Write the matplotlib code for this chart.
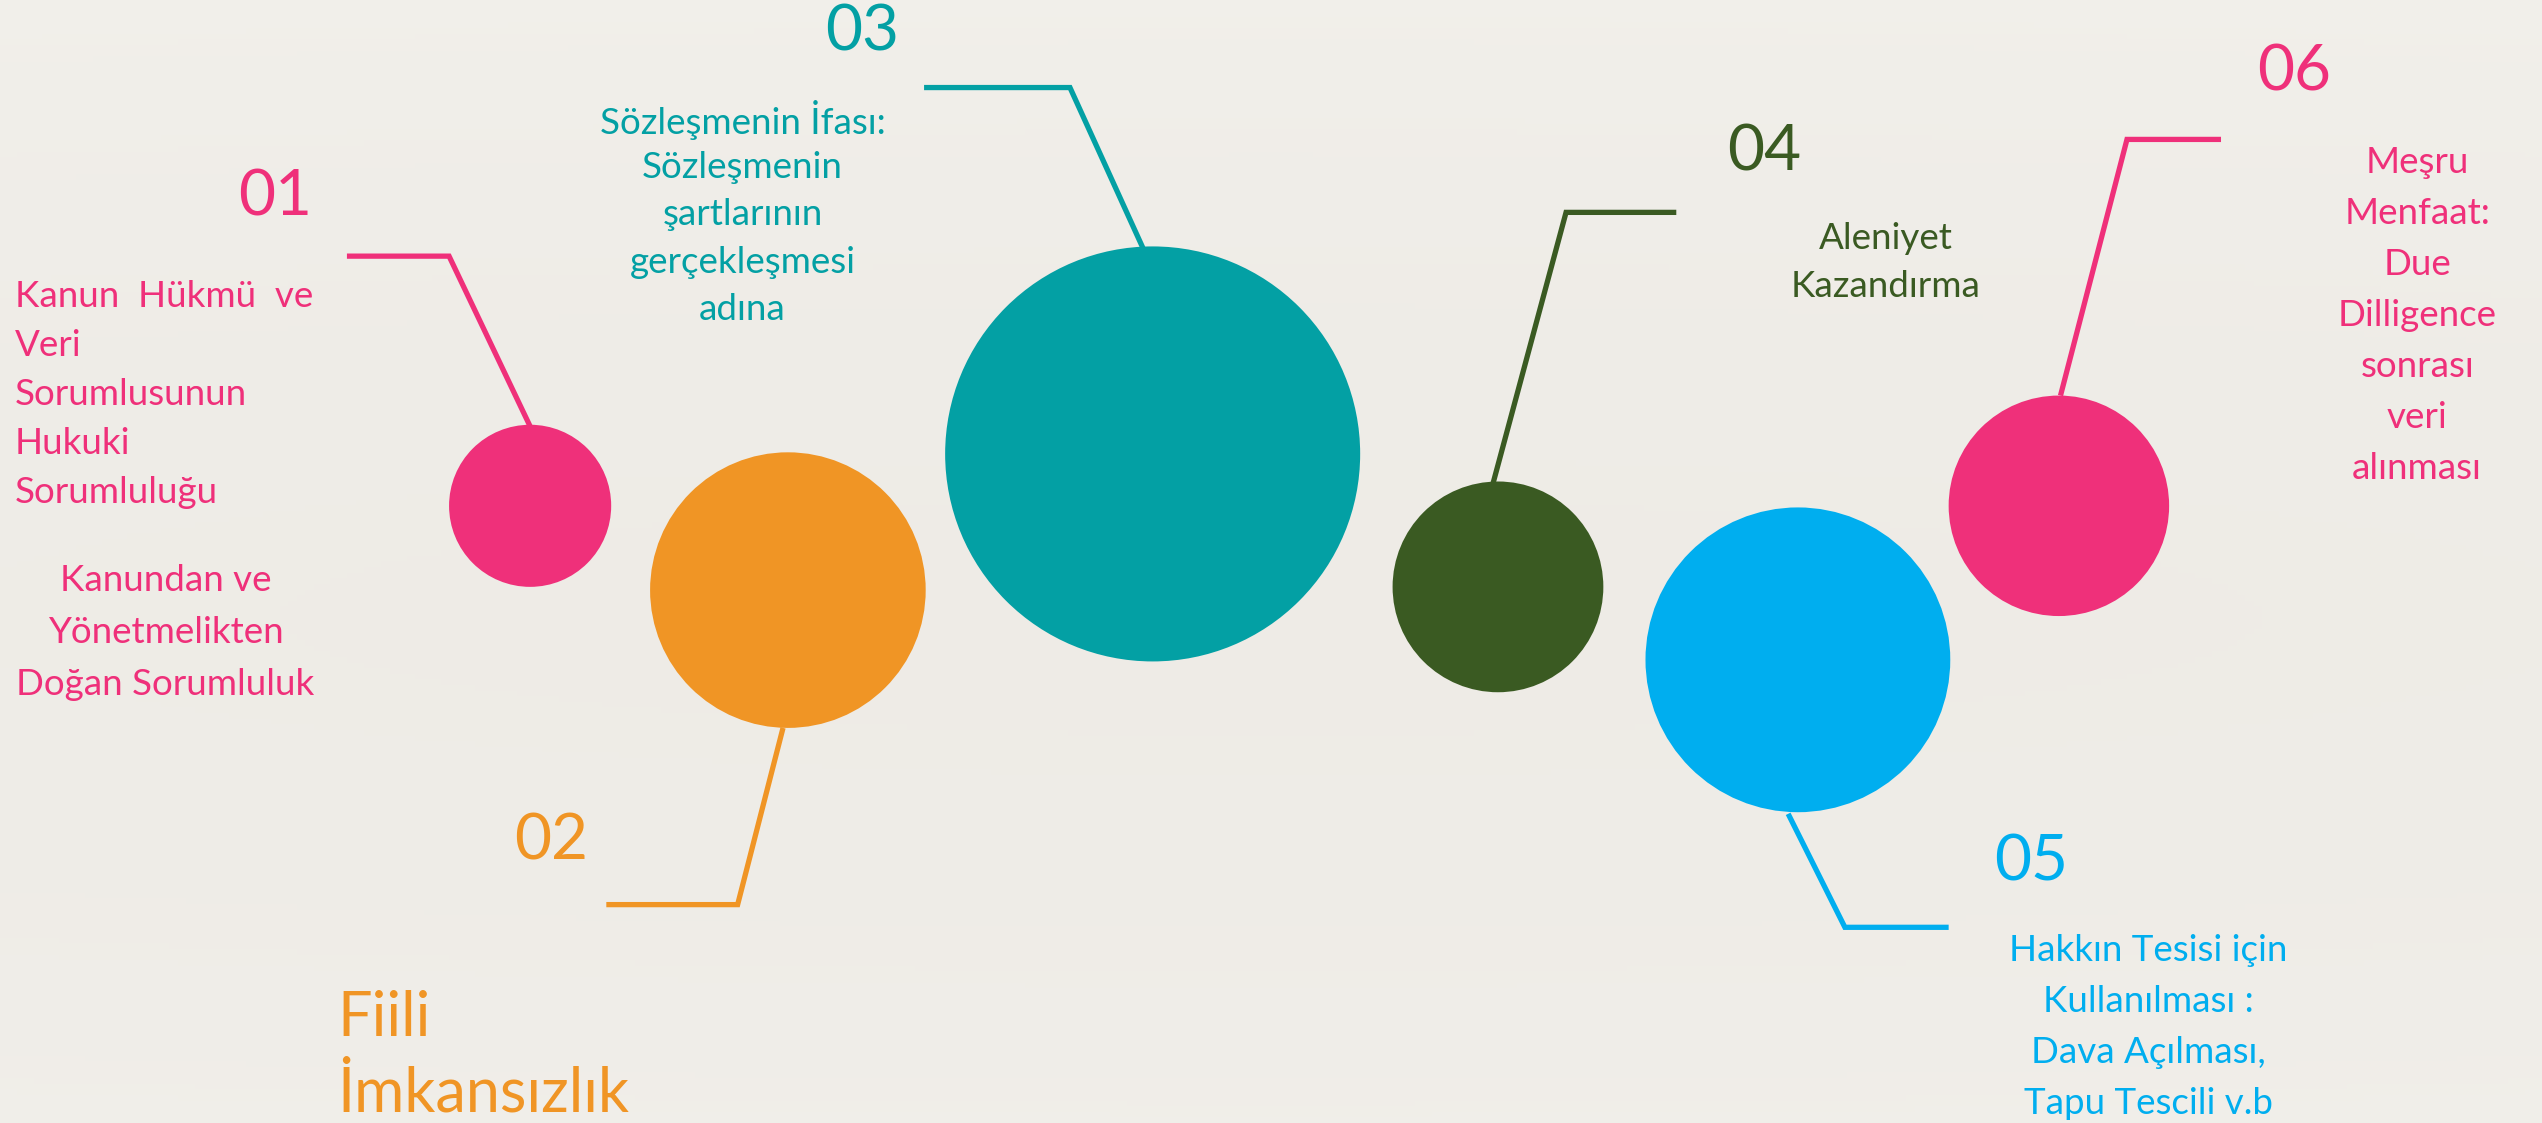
import matplotlib
matplotlib.use("Agg")
import matplotlib.pyplot as plt
from matplotlib.patches import Circle
import numpy as np

W, H = 2542, 1123
S = 2542 / 1568.0  # display units -> pixels
YMAX = H / S

labels = ["01", "02", "03", "04", "05", "06"]
colors = ["#EF307A", "#F09525", "#03A0A4", "#3A5A22", "#00AEEF", "#EF307A"]
cx = [327, 486, 711, 924, 1109, 1270]
cy = [312, 364, 280, 362, 407, 312]
radius = [50, 85, 128, 65, 94, 68]

# leader lines (display coordinate units)
lines_x = [[214, 277, 327], [374, 455, 483], [570, 660, 705],
           [1034, 966, 921], [1202, 1138, 1103], [1370, 1312, 1271]]
lines_y = [[158, 158, 263], [558, 558, 449], [54, 54, 153],
           [131, 131, 298], [572, 572, 502], [86, 86, 244]]

num_x = [170, 340, 532, 1088, 1253, 1415]
num_y = [122, 519, 20, 94, 532, 45]

fig = plt.figure(figsize=(W / 100, H / 100), dpi=100)
fig.patch.set_facecolor("#EDEAE5")
ax = fig.add_axes([0, 0, 1, 1])
ax.set_xlim(0, 1568)
ax.set_ylim(YMAX, 0)
ax.axis("off")

# subtle paper background: lighter at top and bottom edges, slightly darker in the middle
yy = np.linspace(0, 1, 200)[:, None]
xx = np.linspace(0, 1, 300)[None, :]
shade = 0.5 + 0.5 * ((yy - 0.55) ** 2 * 2.2) + 0.08 * (xx - 0.5) ** 2
top = np.array([0.953, 0.945, 0.925])
mid = np.array([0.915, 0.905, 0.885])
img = mid + (top - mid) * np.clip(shade, 0, 1)[..., None]
ax.imshow(img, extent=[0, 1568, YMAX, 0], aspect="auto", zorder=0)

FONT = ["Lato", "DejaVu Sans"]
LW = 3.8

for i in range(6):
    ax.add_patch(Circle((cx[i], cy[i]), radius[i], color=colors[i], lw=0, zorder=3))
    ax.plot(lines_x[i], lines_y[i], color=colors[i], lw=LW, solid_capstyle="butt",
            solid_joinstyle="miter", zorder=2)
    ax.text(num_x[i], num_y[i], labels[i], color=colors[i], fontsize=46,
            ha="center", va="center", family=FONT)

body = 26.5

# 01
t01a = ["Kanun  Hükmü  ve", "Veri", "Sorumlusunun", "Hukuki", "Sorumluluğu"]
for k, s in enumerate(t01a):
    ax.text(9, 183 + k * 30.2, s, color=colors[0], fontsize=body, ha="left",
            va="center", family=FONT)
t01b = ["Kanundan ve", "Yönetmelikten", "Doğan Sorumluluk"]
for k, s in enumerate(t01b):
    ax.text(102, 358 + k * 32, s, color=colors[0], fontsize=body, ha="center",
            va="center", family=FONT)

# 02
t02 = ["Fiili", "İmkansızlık"]
for k, s in enumerate(t02):
    ax.text(208, 628 + k * 47, s, color=colors[1], fontsize=44, ha="left",
            va="center", family=FONT)

# 03
t03 = ["Sözleşmenin İfası:", "Sözleşmenin", "şartlarının", "gerçekleşmesi", "adına"]
for k, s in enumerate(t03):
    ax.text(458, 74 + k * 29.3, s, color=colors[2], fontsize=body, ha="center",
            va="center", family=FONT)

# 04
t04 = ["Aleniyet", "Kazandırma"]
for k, s in enumerate(t04):
    ax.text(1163, 147 + k * 30, s, color=colors[3], fontsize=body, ha="center",
            va="center", family=FONT)

# 05
t05 = ["Hakkın Tesisi için", "Kullanılması :", "Dava Açılması,", "Tapu Tescili v.b"]
for k, s in enumerate(t05):
    ax.text(1325, 586 + k * 31.5, s, color=colors[4], fontsize=body, ha="center",
            va="center", family=FONT)

# 06
t06 = ["Meşru", "Menfaat:", "Due", "Dilligence", "sonrası", "veri", "alınması"]
for k, s in enumerate(t06):
    ax.text(1491, 100 + k * 31.5, s, color=colors[5], fontsize=body, ha="center",
            va="center", family=FONT)

fig.savefig("out.png", dpi=100, facecolor=fig.get_facecolor())
